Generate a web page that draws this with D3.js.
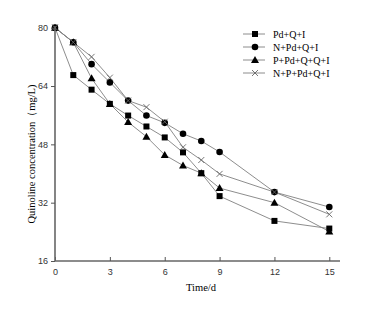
<!DOCTYPE html>
<html>
<head>
<meta charset="utf-8">
<script src="https://cdn.jsdelivr.net/npm/d3@7"></script>
<style>
  body { margin: 0; background: #fff; }
  .tick text { font-family: "Liberation Sans", Arial, sans-serif; font-size: 9px; fill: #333; }
</style>
</head>
<body>
<svg id="canvas" width="369" height="315"></svg>
<script>
// sampling days
let days = [0, 1, 2, 3, 4, 5, 6, 7, 8, 9, 12, 15]

// quinoline concentration (mg/L) for each treatment
let pdQI = [80, 67.0, 63.0, 59.1, 55.9, 52.9, 49.9, 45.8, 40.1, 33.8, 27.0, 24.9]
let nPdQI = [80, 76.0, 70.0, 65.0, 60.0, 55.9, 53.9, 50.9, 48.9, 45.9, 34.9, 30.8]
let pPdQQI = [80, 76.0, 66.1, 59.1, 54.1, 50.1, 45.1, 42.2, 40.1, 36.0, 32.0, 24.1]
let nPPdQI = [80, 76.0, 72.0, 66.3, 60.0, 58.2, 54.2, 47.2, 43.7, 39.9, 34.9, 28.8]

let seriesNames = ['Pd+Q+I', 'N+Pd+Q+I', 'P+Pd+Q+Q+I', 'N+P+Pd+Q+I']
let seriesValues = [pdQI, nPdQI, pPdQQI, nPPdQI]
let seriesSymbols = ['square', 'circle', 'triangle', 'cross']

let xTicks = [0, 3, 6, 9, 12, 15]
let yTicks = [16, 32, 48, 64, 80]

let canvas = d3.select('#canvas')

let xScale = d3.scaleLinear().domain([0, 15]).range([55, 329.3])
let yScale = d3.scaleLinear().domain([16, 80]).range([261, 27.7])

let lineColor = '#808080'

// draws one marker shape centred at 0,0
let drawMarker = (g, kind) => {
    if (kind === 'square') {
        g.append('rect').attr('x', -3).attr('y', -3).attr('width', 6).attr('height', 6).attr('fill', '#000')
    } else if (kind === 'circle') {
        g.append('circle').attr('r', 3.3).attr('fill', '#000')
    } else if (kind === 'triangle') {
        g.append('path').attr('d', 'M0,-4L4,3L-4,3Z').attr('fill', '#000')
    } else {
        g.append('path').attr('d', 'M-3,-3L3,3M-3,3L3,-3')
            .attr('stroke', '#666').attr('stroke-width', 0.9).attr('fill', 'none')
    }
}

let drawChart = () => {
    let line = d3.line()
        .x((d, i) => xScale(days[i]))
        .y((d) => yScale(d))

    // lines first, markers on top
    seriesValues.forEach((values) => {
        canvas.append('path')
            .attr('d', line(values))
            .attr('fill', 'none')
            .attr('stroke', lineColor)
            .attr('stroke-width', 0.9)
    })

    seriesValues.forEach((values, s) => {
        values.forEach((v, i) => {
            let g = canvas.append('g')
                .attr('transform', 'translate(' + xScale(days[i]) + ',' + yScale(v) + ')')
            drawMarker(g, seriesSymbols[s])
        })
    })

    // axes
    let xAxis = d3.axisBottom(xScale).tickValues(xTicks).tickSize(-4).tickPadding(8)
    let xg = canvas.append('g').attr('transform', 'translate(0,261)').call(xAxis)
    xg.select('.domain').attr('d', 'M55,0H340').attr('stroke', '#666').attr('stroke-width', 1.6)
    xg.selectAll('.tick line').attr('stroke', '#555')

    let yAxis = d3.axisLeft(yScale).tickValues(yTicks).tickSize(4).tickPadding(3)
    let yg = canvas.append('g').attr('transform', 'translate(55,0)').call(yAxis)
    yg.select('.domain').attr('d', 'M0,261V26').attr('stroke', '#666').attr('stroke-width', 1.6)
    yg.selectAll('.tick line').attr('stroke', '#555')

    // axis titles
    canvas.append('text')
        .attr('x', 201).attr('y', 291)
        .attr('text-anchor', 'middle')
        .style('font-family', '"Liberation Serif", "Times New Roman", serif')
        .style('font-size', '10.5px')
        .text('Time/d')

    canvas.append('text')
        .attr('transform', 'translate(35,154) rotate(-90)')
        .attr('text-anchor', 'middle')
        .style('font-family', '"Liberation Serif", "Times New Roman", serif')
        .style('font-size', '10.5px')
        .text('Quinoline concentration（mg/L)')

    // legend
    let legend = canvas.selectAll('.legend')
        .data(seriesNames)
        .enter()
        .append('g')
        .attr('class', 'legend')
        .attr('transform', (d, i) => 'translate(243,' + (34 + i * 13) + ')')

    legend.append('line')
        .attr('x1', 0).attr('x2', 22).attr('y1', 0).attr('y2', 0)
        .attr('stroke', lineColor).attr('stroke-width', 0.9)

    legend.each(function (d, i) {
        let g = d3.select(this).append('g').attr('transform', 'translate(12,0)')
        drawMarker(g, seriesSymbols[i])
    })

    legend.append('text')
        .attr('x', 30).attr('y', 3.5)
        .style('font-family', '"Liberation Serif", "Times New Roman", serif')
        .style('font-size', '10px')
        .text((d) => d)
}

drawChart()
</script>
</body>
</html>
